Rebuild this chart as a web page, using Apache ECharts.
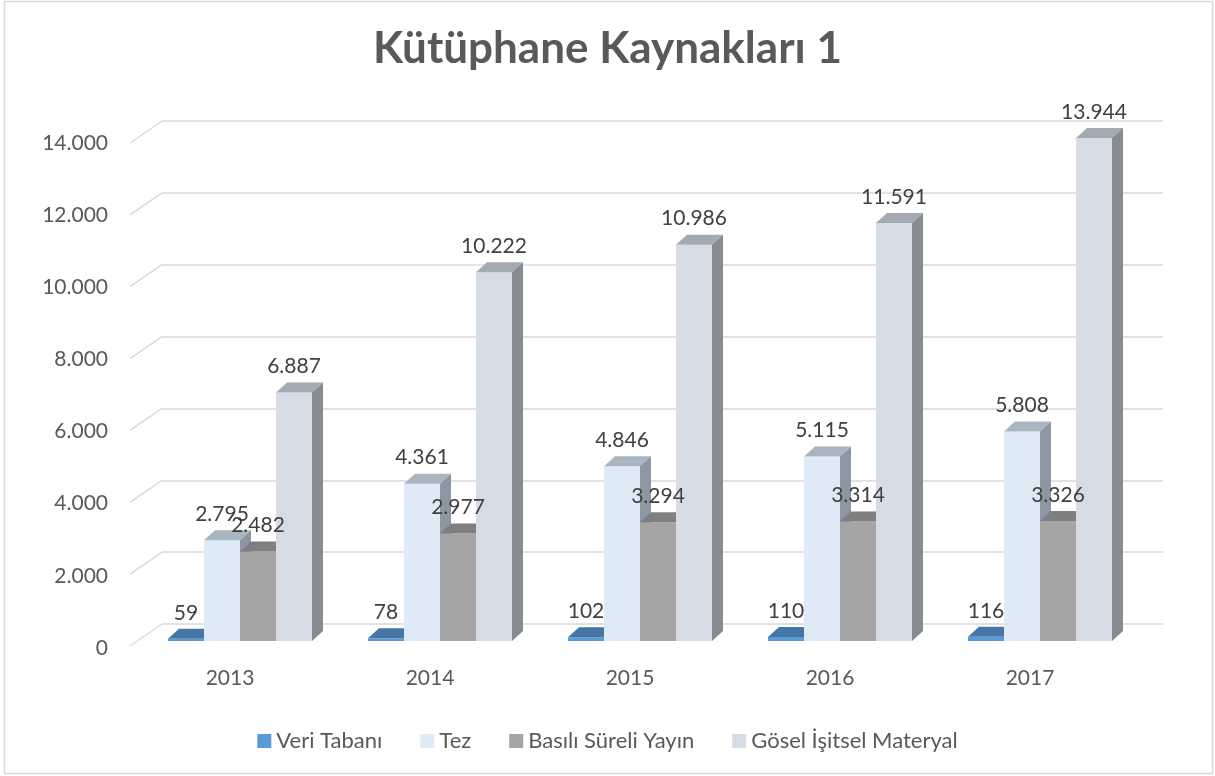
<!DOCTYPE html>
<html>
<head>
<meta charset="utf-8">
<script src="https://cdn.jsdelivr.net/npm/echarts@6/dist/echarts.min.js"></script>
<style>
  html, body { margin: 0; padding: 0; background: #fff; }
  #chart { width: 1215px; height: 776px; }
</style>
</head>
<body>
<div id="chart"></div>
<script>
// veriler
var years = ['2013', '2014', '2015', '2016', '2017'];
var yTicks = [0, 2000, 4000, 6000, 8000, 10000, 12000, 14000];
var veriTabani = [59, 78, 102, 110, 116];
var tez = [2795, 4361, 4846, 5115, 5808];
var basili = [2482, 2977, 3294, 3314, 3326];
var gosel = [6887, 10222, 10986, 11591, 13944];

var seriesNames = ['Veri Tabanı', 'Tez', 'Basılı Süreli Yayın', 'Gösel İşitsel Materyal'];
var seriesData = [veriTabani, tez, basili, gosel];
// front, top, side
var faceColors = [
  ['#5b9bd5', '#4676a6', '#3e6994'],
  ['#deebf7', '#aab5c2', '#8c97a3'],
  ['#a5a5a5', '#7f7f7f', '#8a8a8a'],
  ['#d6dce5', '#a4aab2', '#888c92']
];
var DX = 11, DY = 10;          // bar depth
var WALL_DX = 32, WALL_DY = 22; // front edge -> back wall

function fmt(v) {
  return String(v).replace(/\B(?=(\d{3})+(?!\d))/g, '.');
}

var chart = echarts.init(document.getElementById('chart'));
var FONT = 'Lato';

/**
 * 3B sütun çizimi
 */
function barRenderer(s) {
  return function (params, api) {
    var idx = api.value(0), val = api.value(1);
    var top = api.coord([idx, val]);
    var base = api.coord([idx, 0]);
    var bw = api.size([1, 0])[0] * 0.18;
    var x0 = top[0] - 2 * bw + s * bw;
    var y1 = top[1], y0 = base[1];
    var c = faceColors[s];
    return {
      type: 'group',
      children: [
        { type: 'rect', shape: { x: x0, y: y1, width: bw, height: y0 - y1 }, style: { fill: c[0] } },
        { type: 'polygon', shape: { points: [[x0, y1], [x0 + DX, y1 - DY], [x0 + bw + DX, y1 - DY], [x0 + bw, y1]] }, style: { fill: c[1] } },
        { type: 'polygon', shape: { points: [[x0 + bw, y1], [x0 + bw + DX, y1 - DY], [x0 + bw + DX, y0 - DY], [x0 + bw, y0]] }, style: { fill: c[2] } }
      ]
    };
  };
}

function labelRenderer(s) {
  return function (params, api) {
    var idx = api.value(0), val = api.value(1);
    var top = api.coord([idx, val]);
    var bw = api.size([1, 0])[0] * 0.18;
    var cx = top[0] - 2 * bw + s * bw + bw / 2;
    return {
      type: 'text',
      style: {
        x: cx, y: top[1] - 26, text: fmt(val),
        align: 'center', verticalAlign: 'middle',
        fill: '#404040', font: '21px ' + FONT
      }
    };
  };
}

var series = [];
// arka duvar çapraz çizgileri
series.push({
  type: 'custom',
  xAxisIndex: 1, yAxisIndex: 1,
  silent: true,
  data: yTicks.map(function (v) { return [0, v]; }),
  renderItem: function (params, api) {
    var p = api.coord([0, api.value(1)]);
    var x = params.coordSys.x;
    return {
      type: 'line',
      shape: { x1: x, y1: p[1], x2: x - WALL_DX, y2: p[1] + WALL_DY },
      style: { stroke: '#d9d9d9', lineWidth: 1.5 }
    };
  }
});
seriesData.forEach(function (arr, s) {
  series.push({
    name: seriesNames[s],
    type: 'custom',
    xAxisIndex: 2, yAxisIndex: 2,
    itemStyle: { color: faceColors[s][0] },
    data: arr.map(function (v, i) { return [i, v]; }),
    renderItem: barRenderer(s),
    z: 3
  });
});
seriesData.forEach(function (arr, s) {
  series.push({
    type: 'custom',
    xAxisIndex: 2, yAxisIndex: 2,
    silent: true,
    data: arr.map(function (v, i) { return [i, v]; }),
    renderItem: labelRenderer(s),
    z: 5
  });
});

var option = {
  backgroundColor: '#fff',
  animation: false,
  title: {
    text: 'Kütüphane Kaynakları 1',
    left: 'center', top: 22,
    textStyle: { fontFamily: FONT, fontSize: 44, fontWeight: 'bold', color: '#595959' }
  },
  legend: {
    data: seriesNames,
    left: 'center', top: 725,
    icon: 'rect', itemWidth: 14, itemHeight: 14, itemGap: 38,
    textStyle: { fontFamily: FONT, fontSize: 22, color: '#595959' }
  },
  graphic: [{
    type: 'rect', silent: true,
    shape: { x: 4.5, y: 1.5, width: 1208, height: 772 },
    style: { fill: 'none', stroke: '#d9d9d9', lineWidth: 1.5 }
  }],
  grid: [
    { left: 130, top: 143, width: 1000, height: 505 },   // ön (etiketler)
    { left: 162, top: 121, width: 1001, height: 503 },   // arka duvar
    { left: 140, top: 136, width: 1000, height: 505 }    // sütunlar
  ],
  xAxis: [
    {
      gridIndex: 0, type: 'category', data: years,
      axisLine: { show: false }, axisTick: { show: false },
      axisLabel: { margin: 20, fontFamily: FONT, fontSize: 21, color: '#595959' }
    },
    { gridIndex: 1, type: 'category', data: years, show: false },
    { gridIndex: 2, type: 'category', data: years, show: false }
  ],
  yAxis: [
    {
      gridIndex: 0, type: 'value', min: 0, max: 14000, interval: 2000,
      axisLine: { show: false }, axisTick: { show: false }, splitLine: { show: false },
      axisLabel: { margin: 22, fontFamily: FONT, fontSize: 21, color: '#595959', formatter: fmt }
    },
    {
      gridIndex: 1, type: 'value', min: 0, max: 14000, interval: 2000,
      axisLine: { show: false }, axisTick: { show: false }, axisLabel: { show: false },
      splitLine: { lineStyle: { color: '#d9d9d9', width: 1.5 } }
    },
    { gridIndex: 2, type: 'value', min: 0, max: 14000, show: false }
  ],
  series: series
};

chart.setOption(option);
</script>
</body>
</html>
